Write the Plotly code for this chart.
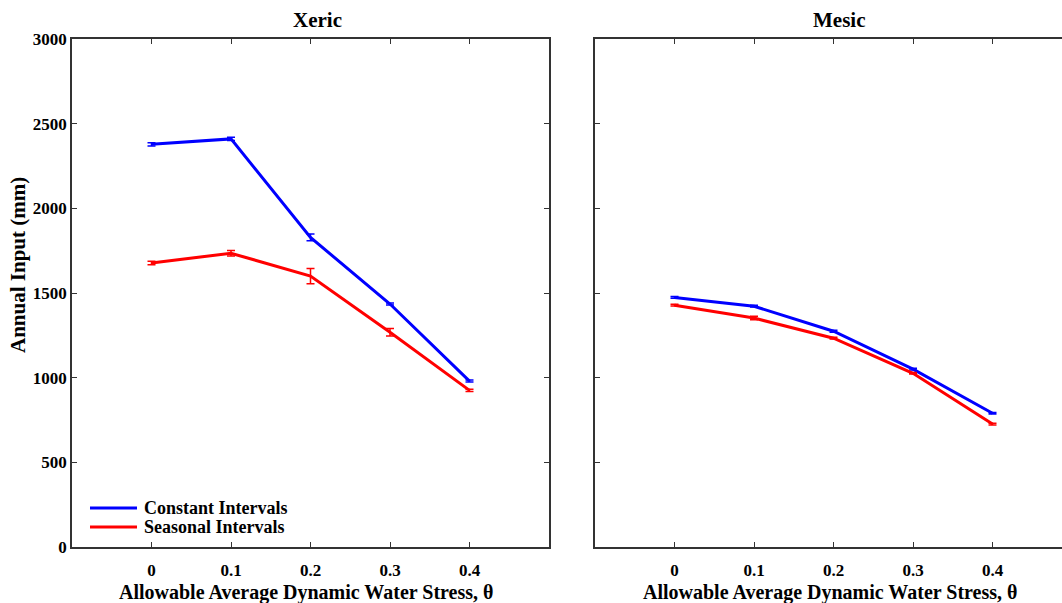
import plotly.graph_objects as go

theta = [0, 0.1, 0.2, 0.3, 0.4]
xeric_const = [2378, 2410, 1828, 1435, 980]
xeric_const_err = [10, 10, 20, 6, 6]
xeric_seas = [1677, 1735, 1600, 1268, 925]
xeric_seas_err = [10, 16, 45, 22, 6]
mesic_const = [1474, 1422, 1274, 1050, 790]
mesic_const_err = [5, 5, 6, 5, 5]
mesic_seas = [1428, 1352, 1233, 1026, 726]
mesic_seas_err = [5, 10, 5, 5, 5]

series_names = ["Constant Intervals", "Seasonal Intervals"]

yticks = [0, 500, 1000, 1500, 2000, 2500, 3000]
xticks = [0, 0.1, 0.2, 0.3, 0.4]
xticklabels = ["0", "0.1", "0.2", "0.3", "0.4"]

BLUE = "#0000ff"
RED = "#ff0000"
FONT = "Liberation Serif"

fig = go.Figure()

def add(x, y, err, color, name, xa, ya):
    fig.add_trace(go.Scatter(
        x=x, y=y, mode="lines", name=name, showlegend=False,
        line=dict(color=color, width=3),
        error_y=dict(type="data", array=err, color=color, thickness=1.5, width=4),
        xaxis=xa, yaxis=ya))

add(theta, xeric_const, xeric_const_err, BLUE, series_names[0], "x", "y")
add(theta, xeric_seas, xeric_seas_err, RED, series_names[1], "x", "y")
add(theta, mesic_const, mesic_const_err, BLUE, series_names[0], "x2", "y2")
add(theta, mesic_seas, mesic_seas_err, RED, series_names[1], "x2", "y2")

tickfont = dict(family=FONT, size=17, color="black", weight="bold")
ax_common = dict(showgrid=False, zeroline=False, showline=True, linecolor="#333333",
                 linewidth=1.5, ticks="inside", ticklen=5, tickcolor="#333333",
                 tickfont=tickfont, automargin=False)
ydom = [(603 - 547) / 603, (603 - 39) / 603]

# legend drawn inside the left panel (paper coords)
legend_shapes = []
legend_ann = []
for i, (nm, col) in enumerate(zip(series_names, [BLUE, RED])):
    yp = (603 - (508 + 19 * i)) / 603
    legend_shapes.append(dict(type="line", xref="paper", yref="paper",
                              x0=90 / 1062, x1=137 / 1062, y0=yp, y1=yp,
                              line=dict(color=col, width=3)))
    legend_ann.append(dict(text="<b>" + nm + "</b>", x=142 / 1062, y=yp,
                           xref="paper", yref="paper", showarrow=False,
                           xanchor="left", yanchor="middle",
                           font=dict(family=FONT, size=18, color="black")))

xtitle = "<b>Allowable Average Dynamic Water Stress, θ</b>"

fig.update_layout(
    width=1062, height=603,
    margin=dict(l=0, r=0, t=0, b=0, autoexpand=False),
    paper_bgcolor="white", plot_bgcolor="white",
    font=dict(family=FONT, color="black"),
    showlegend=False,
    xaxis=dict(**ax_common, domain=[72 / 1062, 549 / 1062], range=[-0.1, 0.5],
               tickvals=xticks, ticktext=xticklabels, mirror="ticks", anchor="y",
               ticklabelstandoff=7),
    yaxis=dict(**ax_common, domain=ydom, range=[0, 3000], tickvals=yticks,
               mirror="ticks", anchor="x"),
    xaxis2=dict(**ax_common, domain=[595 / 1062, 1.0], range=[-0.1, 0.4874],
                tickvals=xticks, ticktext=xticklabels, mirror="ticks", anchor="y2",
                ticklabelstandoff=7),
    yaxis2=dict(**ax_common, domain=ydom, range=[0, 3000], tickvals=yticks,
                showticklabels=False, anchor="x2"),
    shapes=legend_shapes,
    annotations=[
        dict(text="<b>Xeric</b>", x=317 / 1062, y=(603 - 20) / 603,
             xref="paper", yref="paper", showarrow=False, xanchor="center",
             yanchor="middle", font=dict(family=FONT, size=21, color="black")),
        dict(text="<b>Mesic</b>", x=839 / 1062, y=(603 - 20) / 603,
             xref="paper", yref="paper", showarrow=False, xanchor="center",
             yanchor="middle", font=dict(family=FONT, size=21, color="black")),
        dict(text="<b>Annual Input (mm)</b>", x=18 / 1062, y=(603 - 265) / 603,
             xref="paper", yref="paper", showarrow=False, xanchor="center",
             yanchor="middle", textangle=-90,
             font=dict(family=FONT, size=21, color="black")),
        dict(text=xtitle, x=306 / 1062, y=(603 - 592) / 603,
             xref="paper", yref="paper", showarrow=False, xanchor="center",
             yanchor="middle", font=dict(family=FONT, size=20, color="black")),
        dict(text=xtitle, x=830 / 1062, y=(603 - 592) / 603,
             xref="paper", yref="paper", showarrow=False, xanchor="center",
             yanchor="middle", font=dict(family=FONT, size=20, color="black")),
    ] + legend_ann,
)

fig.write_html("out.html")
